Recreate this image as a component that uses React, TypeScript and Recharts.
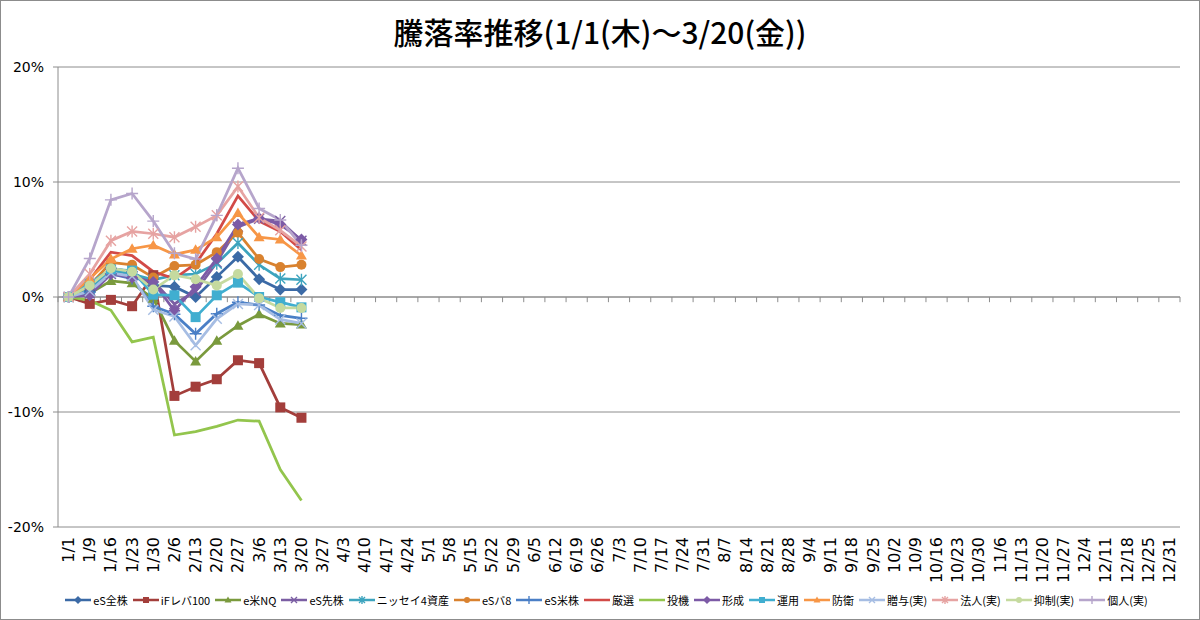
import React from "react";
import { LineChart, Line, XAxis, YAxis, CartesianGrid, ReferenceLine } from "recharts";

// weekly dates on the category axis
const dates = [
  "1/1", "1/9", "1/16", "1/23", "1/30", "2/6", "2/13", "2/20", "2/27", "3/6", "3/13", "3/20", "3/27",
  "4/3", "4/10", "4/17", "4/24", "5/1", "5/8", "5/15", "5/22", "5/29", "6/5", "6/12", "6/19", "6/26",
  "7/3", "7/10", "7/17", "7/24", "7/31", "8/7", "8/14", "8/21", "8/28", "9/4", "9/11", "9/18", "9/25",
  "10/2", "10/9", "10/16", "10/23", "10/30", "11/6", "11/13", "11/20", "11/27", "12/4", "12/11",
  "12/18", "12/25", "12/31",
];
const yTicks = [-20, -10, 0, 10, 20];

// 騰落率 (%), 1/1 .. 3/20
const esZenkabu = [0, 0.5, 2.5, 2.2, 1.0, 0.9, 0.0, 1.75, 3.5, 1.55, 0.65, 0.65];
const ifLeva100 = [0, -0.6, -0.25, -0.8, 1.9, -8.6, -7.8, -7.15, -5.5, -5.75, -9.6, -10.5];
const eBeiNQ = [0, 0.3, 1.4, 1.2, -0.15, -3.8, -5.6, -3.8, -2.5, -1.5, -2.3, -2.4];
const esSenkabu = [0, 0.3, 2.0, 1.8, 1.4, -0.6, 0.5, 3.0, 6.1, 6.8, 6.6, 4.9];
const nissay4 = [0, 0.7, 2.3, 2.0, 1.5, 1.9, 2.0, 2.9, 4.7, 2.8, 1.6, 1.5];
const esBa8 = [0, 1.0, 3.0, 2.8, 1.7, 2.7, 2.8, 3.9, 5.6, 3.3, 2.6, 2.8];
const esBeikabu = [0, 0.4, 2.0, 1.6, -0.8, -1.5, -3.2, -1.45, -0.45, -0.7, -1.6, -1.85];
const gensen = [0, 1.5, 3.9, 3.6, 2.2, 1.6, 2.9, 5.5, 8.8, 6.6, 5.7, 4.1];
const touki = [0, -0.3, -1.15, -3.9, -3.5, -12.0, -11.7, -11.25, -10.7, -10.8, -15.0, -17.7];
const keisei = [0, 0.15, 2.0, 1.7, 1.3, -1.2, 0.9, 3.35, 6.3, 6.85, 6.3, 5.0];
const unyou = [0, 1.2, 2.4, 2.3, 0.2, 0.15, -1.75, 0.15, 1.25, 0.0, -0.45, -0.9];
const bouei = [0, 1.6, 3.3, 4.2, 4.5, 3.7, 4.1, 5.2, 7.3, 5.2, 5.0, 3.6];
const zouyo = [0, 0.5, 2.1, 1.8, -1.1, -1.7, -4.2, -1.9, -0.6, -0.7, -1.95, -2.3];
const houjin = [0, 2.0, 4.9, 5.7, 5.5, 5.2, 6.1, 7.1, 9.6, 6.9, 5.8, 4.4];
const yokusei = [0, 1.0, 2.5, 2.2, 0.65, 1.9, 1.55, 1.0, 2.0, -0.1, -0.95, -0.95];
const kojin = [0, 3.35, 8.45, 9.0, 6.6, 3.8, 3.3, 7.1, 11.2, 7.7, 6.7, 4.5];

type Kind = "diamond" | "square" | "triangle" | "x" | "star" | "circle" | "plus" | "none";

const series: { name: string; values: number[]; color: string; marker: Kind }[] = [
  { name: "eS全株", values: esZenkabu, color: "#3B6AA6", marker: "diamond" },
  { name: "iFレバ100", values: ifLeva100, color: "#A33E3B", marker: "square" },
  { name: "e米NQ", values: eBeiNQ, color: "#7A9A3D", marker: "triangle" },
  { name: "eS先株", values: esSenkabu, color: "#7B5EA3", marker: "x" },
  { name: "ニッセイ4資産", values: nissay4, color: "#3DA4BE", marker: "star" },
  { name: "eSバ8", values: esBa8, color: "#D9822F", marker: "circle" },
  { name: "eS米株", values: esBeikabu, color: "#4A7FC6", marker: "plus" },
  { name: "厳選", values: gensen, color: "#D24A47", marker: "none" },
  { name: "投機", values: touki, color: "#93C54D", marker: "none" },
  { name: "形成", values: keisei, color: "#7C5AA6", marker: "diamond" },
  { name: "運用", values: unyou, color: "#40AED0", marker: "square" },
  { name: "防衛", values: bouei, color: "#F79646", marker: "triangle" },
  { name: "贈与(実)", values: zouyo, color: "#A6BDE3", marker: "x" },
  { name: "法人(実)", values: houjin, color: "#E6A3A2", marker: "star" },
  { name: "抑制(実)", values: yokusei, color: "#C5DA9F", marker: "circle" },
  { name: "個人(実)", values: kojin, color: "#B6A5CB", marker: "plus" },
];

const data = dates.map((d, i) => {
  const row: any = { i, d };
  series.forEach((s, k) => {
    row["s" + k] = i < s.values.length ? s.values[i] : null;
  });
  return row;
});

// category boundaries for the little tick marks on the 0% axis
const boundaries = Array.from({ length: dates.length + 1 }, (_, k) => k - 0.5);

function Marker({ kind, x, y, color, r = 5 }: { kind: Kind; x: number; y: number; color: string; r?: number }) {
  switch (kind) {
    case "diamond":
      return <polygon points={`${x},${y - r - 1} ${x + r + 1},${y} ${x},${y + r + 1} ${x - r - 1},${y}`} fill={color} />;
    case "square":
      return <rect x={x - r} y={y - r} width={r * 2} height={r * 2} fill={color} />;
    case "triangle":
      return <polygon points={`${x},${y - r - 0.5} ${x + r + 0.5},${y + r * 0.8} ${x - r - 0.5},${y + r * 0.8}`} fill={color} />;
    case "circle":
      return <circle cx={x} cy={y} r={r} fill={color} />;
    case "x":
      return <path d={`M${x - r},${y - r}L${x + r},${y + r}M${x - r},${y + r}L${x + r},${y - r}`} stroke={color} strokeWidth={1.4} />;
    case "star":
      return (
        <path
          d={`M${x - r},${y - r}L${x + r},${y + r}M${x - r},${y + r}L${x + r},${y - r}M${x},${y - r - 1}L${x},${y + r + 1}`}
          stroke={color}
          strokeWidth={1.4}
        />
      );
    case "plus":
      return <path d={`M${x - r - 1},${y}L${x + r + 1},${y}M${x},${y - r - 1}L${x},${y + r + 1}`} stroke={color} strokeWidth={1.4} />;
    default:
      return null;
  }
}

function DateTick(props: any) {
  const { x, y, payload } = props;
  return (
    <text
      transform={`translate(${x},${y + 2}) rotate(-90)`}
      textAnchor="end"
      dominantBaseline="central"
      fontSize={16}
      fontFamily="DejaVu Sans"
      fill="#000"
    >
      {dates[payload.value]}
    </text>
  );
}

function LegendRow() {
  return (
    <div
      style={{
        position: "absolute",
        top: 592,
        left: 8,
        width: 1200,
        display: "flex",
        justifyContent: "center",
        fontFamily: "'Noto Sans CJK JP'",
        fontSize: 11,
        color: "#000",
      }}
    >
      {series.map((s) => (
        <div key={s.name} style={{ display: "flex", alignItems: "center", marginRight: 4 }}>
          <svg width={28} height={14}>
            <line x1={1} y1={7} x2={27} y2={7} stroke={s.color} strokeWidth={2.5} />
            <Marker kind={s.marker} x={14} y={7} color={s.color} r={3} />
          </svg>
          <span style={{ marginLeft: 1 }}>{s.name}</span>
        </div>
      ))}
    </div>
  );
}

export default function App() {
  return (
    <div style={{ position: "absolute", left: 0, top: 0, width: 1200, height: 620, background: "#fff", overflow: "hidden" }}>
      <div
        style={{
          position: "absolute",
          top: 11,
          left: 0,
          width: 1200,
          textAlign: "center",
          fontFamily: "'Noto Sans CJK JP'",
          fontSize: 30,
          fontWeight: 500,
          lineHeight: "40px",
          color: "#000",
        }}
      >
        騰落率推移(1/1(木)～3/20(金))
      </div>
      <LineChart
        width={1200}
        height={620}
        data={data}
        margin={{ top: 67, right: 20, bottom: 35, left: 8 }}
        style={{ position: "absolute", left: 0, top: 0 }}
      >
        <CartesianGrid vertical={false} stroke="#8C8C8C" strokeWidth={1} />
        <XAxis
          dataKey="i"
          type="number"
          domain={[-0.5, dates.length - 0.5]}
          ticks={dates.map((_, i) => i)}
          interval={0}
          axisLine={false}
          tickLine={false}
          tick={<DateTick />}
          height={58}
        />
        <YAxis
          domain={[-20, 20]}
          ticks={yTicks}
          interval={0}
          width={50}
          stroke="#8C8C8C"
          tickSize={5}
          tickMargin={9}
          tickFormatter={(v: number) => `${v}%`}
          tick={{ fill: "#000", fontSize: 14, fontFamily: "DejaVu Sans" }}
        />
        <ReferenceLine y={0} stroke="#8C8C8C" />
        {boundaries.map((b) => (
          <ReferenceLine
            key={b}
            segment={[{ x: b, y: 0 }, { x: b, y: -0.45 }]}
            stroke="#8C8C8C"
          />
        ))}
        {series.map((s, k) => (
          <Line
            key={s.name}
            dataKey={"s" + k}
            name={s.name}
            stroke={s.color}
            strokeWidth={2.75}
            isAnimationActive={false}
            activeDot={false}
            dot={
              s.marker === "none"
                ? false
                : (p: any) =>
                    p.cy == null || p.value == null ? (
                      <g key={p.index} />
                    ) : (
                      <g key={p.index}>
                        <Marker kind={s.marker} x={p.cx} y={p.cy} color={s.color} />
                      </g>
                    )
            }
          />
        ))}
      </LineChart>
      <LegendRow />
      <div
        style={{
          position: "absolute",
          left: 0,
          top: 0,
          width: 1200,
          height: 620,
          boxSizing: "border-box",
          border: "1px solid #8C8C8C",
          pointerEvents: "none",
        }}
      />
    </div>
  );
}
